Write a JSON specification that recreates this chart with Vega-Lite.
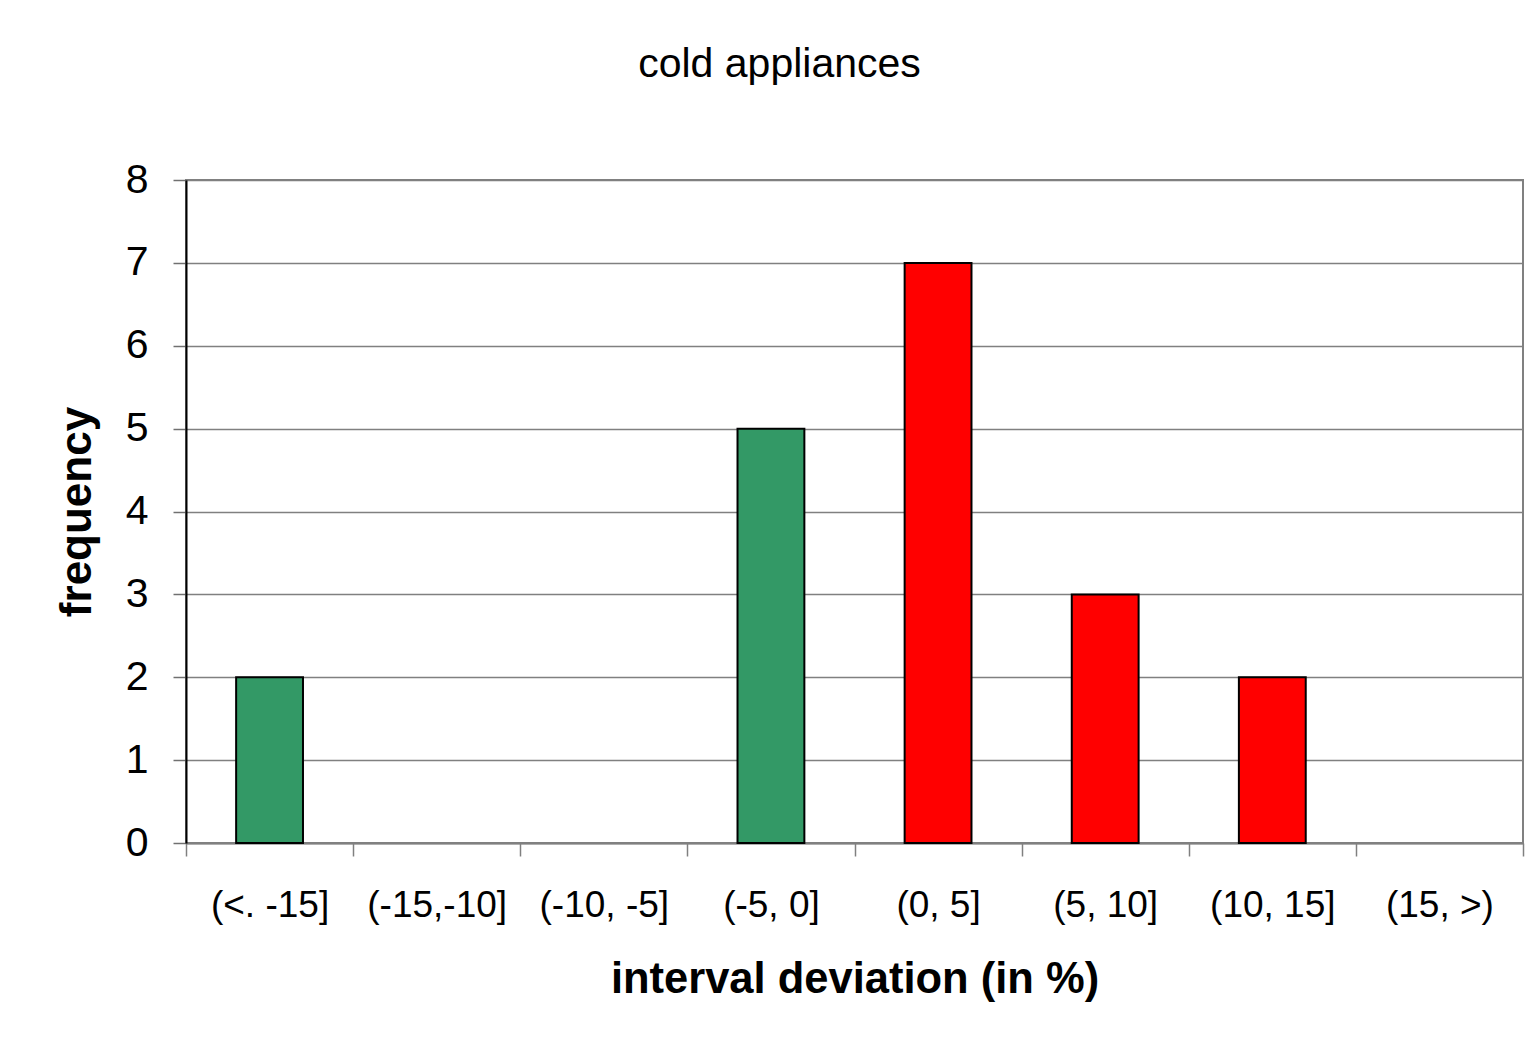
{
  "$schema": "https://vega.github.io/schema/vega-lite/v6.json",
  "autosize": {"type": "none"},
  "padding": {"left": 186, "top": 180, "right": 16, "bottom": 198},
  "width": 1337,
  "height": 663,
  "background": "white",
  "title": {
    "text": "cold appliances",
    "font": "Liberation Sans",
    "fontSize": 41,
    "fontWeight": "normal",
    "color": "black",
    "anchor": "middle",
    "offset": 73,
    "dx": -75
  },
  "data": {
    "values": [
      {"interval": "(<. -15]", "frequency": 2, "sign": "negative"},
      {"interval": "(-15,-10]", "frequency": 0, "sign": "negative"},
      {"interval": "(-10, -5]", "frequency": 0, "sign": "negative"},
      {"interval": "(-5, 0]", "frequency": 5, "sign": "negative"},
      {"interval": "(0, 5]", "frequency": 7, "sign": "positive"},
      {"interval": "(5, 10]", "frequency": 3, "sign": "positive"},
      {"interval": "(10, 15]", "frequency": 2, "sign": "positive"},
      {"interval": "(15, >)", "frequency": 0, "sign": "positive"}
    ]
  },
  "transform": [{"filter": "datum.frequency > 0"}],
  "mark": {"type": "bar", "stroke": "black", "strokeWidth": 2, "width": {"band": 0.4}},
  "encoding": {
    "x": {
      "field": "interval",
      "type": "nominal",
      "sort": null,
      "scale": {
        "domain": ["(<. -15]", "(-15,-10]", "(-10, -5]", "(-5, 0]", "(0, 5]", "(5, 10]", "(10, 15]", "(15, >)"],
        "paddingInner": 0,
        "paddingOuter": 0
      },
      "axis": {
        "title": "interval deviation (in %)",
        "titleFont": "Liberation Sans",
        "titleFontSize": 43.5,
        "titleFontWeight": "bold",
        "titleColor": "black",
        "titlePadding": 35,
        "labelAngle": 0,
        "labelFont": "Liberation Sans",
        "labelFontSize": 37,
        "labelColor": "black",
        "labelPadding": 31,
        "labelOverlap": false,
        "labelBound": false,
        "labelFlush": false,
        "tickBand": "extent",
        "tickSize": 13,
        "tickColor": "#808080",
        "tickWidth": 1.5,
        "domainColor": "#808080",
        "domainWidth": 2
      }
    },
    "y": {
      "field": "frequency",
      "type": "quantitative",
      "scale": {"domain": [0, 8], "nice": false},
      "axis": {
        "title": "frequency",
        "titleFont": "Liberation Sans",
        "titleFontSize": 44,
        "titleFontWeight": "bold",
        "titleColor": "black",
        "titlePadding": 26,
        "values": [0, 1, 2, 3, 4, 5, 6, 7, 8],
        "labelFont": "Liberation Sans",
        "labelFontSize": 41,
        "labelColor": "black",
        "labelPadding": 25,
        "tickSize": 13,
        "tickColor": "#707070",
        "tickWidth": 1.5,
        "domainColor": "black",
        "domainWidth": 2,
        "grid": true,
        "gridColor": "#808080",
        "gridWidth": 1.5
      }
    },
    "color": {
      "field": "sign",
      "type": "nominal",
      "scale": {"domain": ["negative", "positive"], "range": ["#339966", "#FF0000"]},
      "legend": null
    }
  },
  "config": {
    "view": {"stroke": "#808080", "strokeWidth": 2},
    "axis": {"labelFontWeight": "normal"}
  }
}
